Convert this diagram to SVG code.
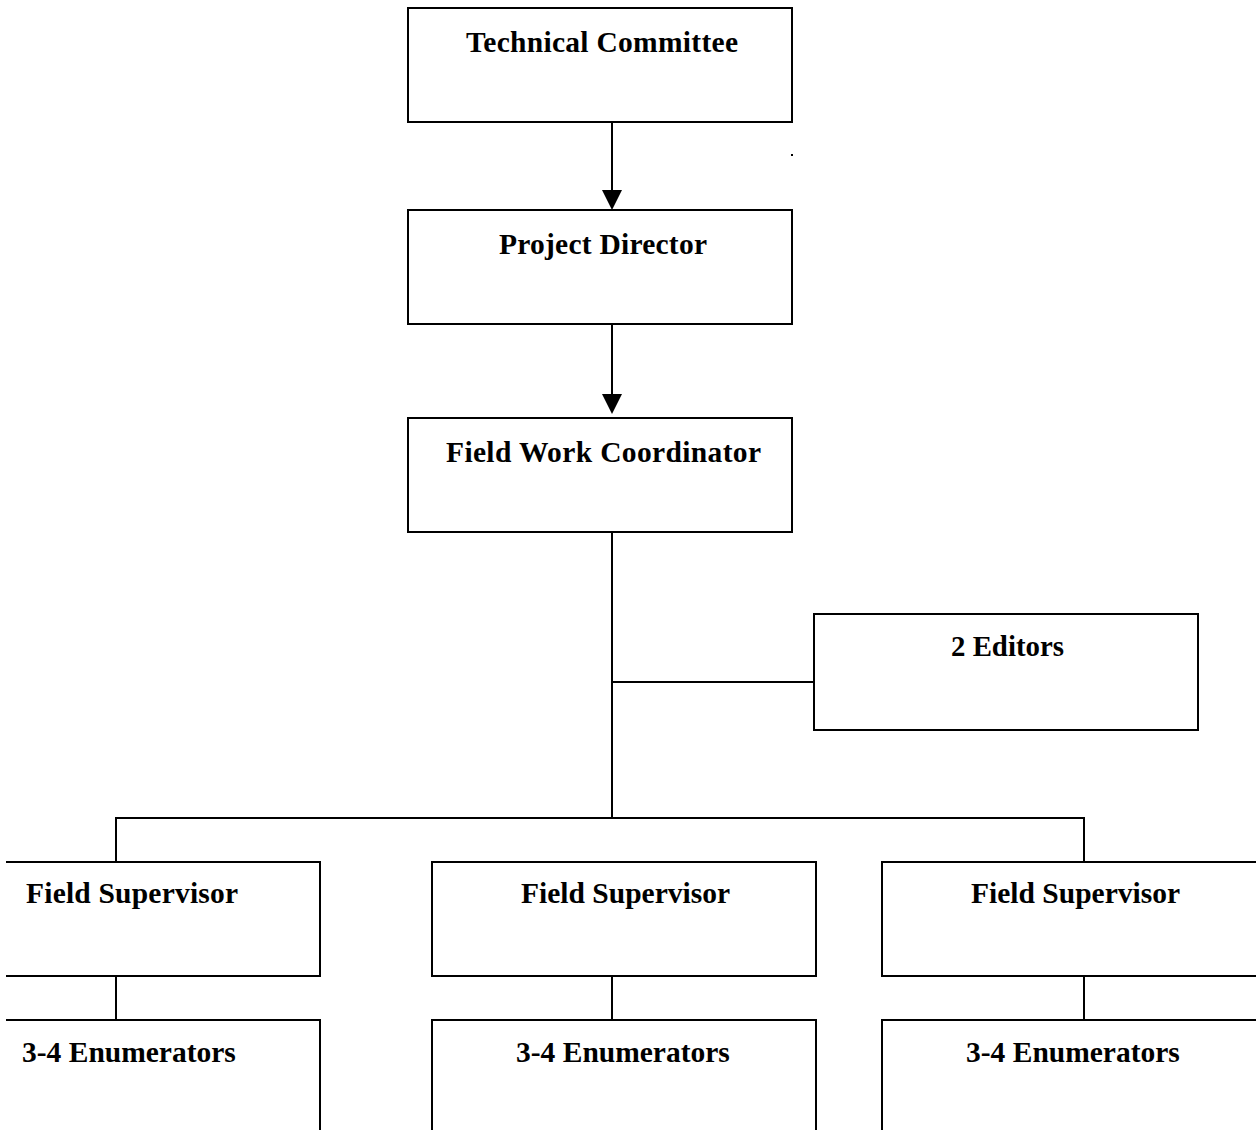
<svg xmlns="http://www.w3.org/2000/svg" width="1256" height="1130" viewBox="0 0 1256 1130">
<style>
.box{fill:none;stroke:#000;stroke-width:2}
.conn{fill:none;stroke:#000;stroke-width:2}
.head{fill:#000;stroke:none}
.lbl{font-family:"Liberation Serif","Times New Roman",serif;font-weight:bold;font-size:29.5px;fill:#000}
</style>
<rect width="1256" height="1130" fill="#fff"/>
<g id="connectors">
<path class="conn" d="M612,122 V192"/>
<path class="head" d="M602,190 L622,190 L612,210 Z"/>
<path class="conn" d="M612,324 V396"/>
<path class="head" d="M602,394 L622,394 L612,414 Z"/>
<path class="conn" d="M612,532 V818"/>
<path class="conn" d="M612,682 H814"/>
<path class="conn" d="M116,862 V818 H1084 V862"/>
<path class="conn" d="M116,976 V1020"/>
<path class="conn" d="M612,976 V1020"/>
<path class="conn" d="M1084,976 V1020"/>
</g>
<rect x="791" y="154" width="2" height="2" fill="#000"/>
<g id="technical-committee">
<rect class="box" x="408" y="8" width="384" height="114"/>
<text class="lbl" x="466" y="52" textLength="272" lengthAdjust="spacing">Technical Committee</text>
</g>
<g id="project-director">
<rect class="box" x="408" y="210" width="384" height="114"/>
<text class="lbl" x="499" y="254" textLength="208" lengthAdjust="spacing">Project Director</text>
</g>
<g id="field-work-coordinator">
<rect class="box" x="408" y="418" width="384" height="114"/>
<text class="lbl" x="446" y="462" textLength="315" lengthAdjust="spacing">Field Work Coordinator</text>
</g>
<g id="editors">
<rect class="box" x="814" y="614" width="384" height="116"/>
<text class="lbl" x="951" y="656" textLength="113" lengthAdjust="spacingAndGlyphs">2 Editors</text>
</g>
<g id="supervisor-left">
<path class="box" d="M6,862 H320 V976 H6"/>
<text class="lbl" x="26" y="903" textLength="212" lengthAdjust="spacing">Field Supervisor</text>
</g>
<g id="supervisor-mid">
<rect class="box" x="432" y="862" width="384" height="114"/>
<text class="lbl" x="521" y="903" textLength="209" lengthAdjust="spacing">Field Supervisor</text>
</g>
<g id="supervisor-right">
<path class="box" d="M1256,862 H882 V976 H1256"/>
<text class="lbl" x="971" y="903" textLength="209" lengthAdjust="spacing">Field Supervisor</text>
</g>
<g id="enumerators-left">
<path class="box" d="M6,1020 H320 V1130"/>
<text class="lbl" x="22" y="1062">3-4 Enumerators</text>
</g>
<g id="enumerators-mid">
<path class="box" d="M432,1130 V1020 H816 V1130"/>
<text class="lbl" x="516" y="1062">3-4 Enumerators</text>
</g>
<g id="enumerators-right">
<path class="box" d="M882,1130 V1020 H1256"/>
<text class="lbl" x="966" y="1062">3-4 Enumerators</text>
</g>
</svg>
